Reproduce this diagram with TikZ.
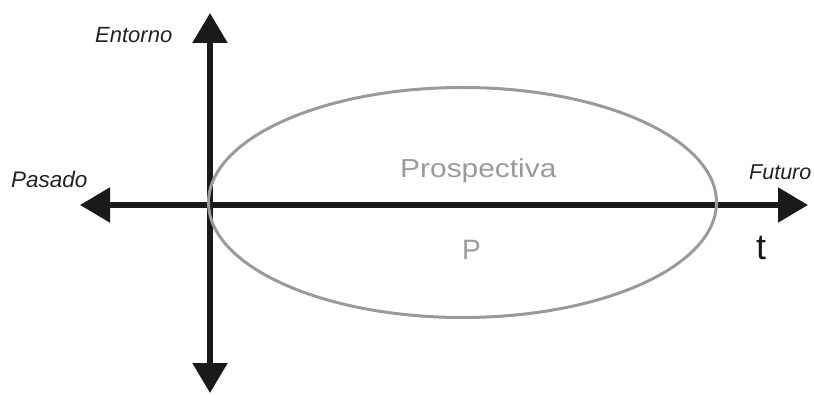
\documentclass[tikz,border=0pt]{standalone}
\usepackage{fontspec}
\setmainfont{Liberation Sans}
\usetikzlibrary{arrows.meta,shapes.geometric}
\definecolor{axisc}{HTML}{1A1A1A}
\definecolor{ellc}{HTML}{9A9A9A}
\definecolor{labc}{HTML}{222222}
\tikzset{
  axisline/.style={draw=axisc, line width=5.5pt, {Triangle[length=30pt,width=34pt]}-{Triangle[length=30pt,width=34pt]}},
  axislabel/.style={anchor=base west, inner sep=0pt, text=labc, font=\fontsize{22}{24}\selectfont\itshape},
  grey text/.style={anchor=base west, inner sep=0pt, text=ellc},
  prospect/.style={ellipse, draw=ellc, line width=3pt, minimum width=508pt, minimum height=230pt, inner sep=0pt}
}
\begin{document}
\begin{tikzpicture}[x=1pt, y=-1pt]
\useasboundingbox (0,0) rectangle (814,395);
\coordinate (O) at (210,205);
\coordinate (top) at (210,13);
\coordinate (bot) at (210,393);
\coordinate (left) at (80,205);
\coordinate (right) at (808,205);
\draw[axisline] (bot) -- (top);
\draw[axisline] (left) -- (right);
\node[prospect] (ell) at (462.5,202.5) {};
\node[axislabel] (entorno) at (95,43) {Entorno};
\node[axislabel, font=\fontsize{22.5}{24}\selectfont\itshape] (pasado) at (11,188) {Pasado};
\node[axislabel, font=\fontsize{21.5}{24}\selectfont\itshape] (futuro) at (749,180) {Futuro};
\node[grey text, font=\fontsize{26}{28}\selectfont, xscale=1.15, transform shape] (pros) at (400,178) {Prospectiva};
\node[grey text, font=\fontsize{28}{30}\selectfont] (P) at (462,260) {P};
\node[anchor=base west, inner sep=0pt, text=axisc, font=\fontsize{36}{38}\selectfont] (t) at (756,260) {t};
\end{tikzpicture}
\end{document}
